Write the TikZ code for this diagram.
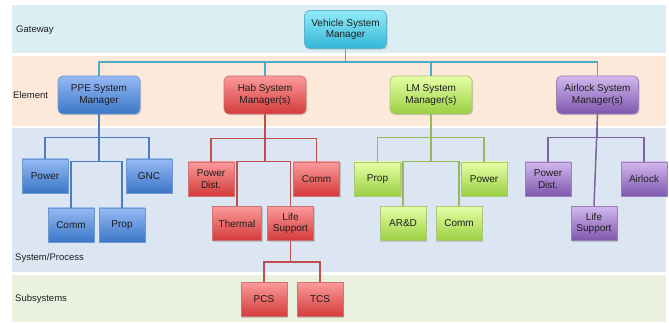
\documentclass[tikz,border=0pt]{standalone}
\usepackage{fontspec}
\setmainfont{Liberation Sans}
\usetikzlibrary{shadows}
\definecolor{bandA}{HTML}{DBEEF4}
\definecolor{bandB}{HTML}{FDE9DA}
\definecolor{bandC}{HTML}{DCE6F2}
\definecolor{bandD}{HTML}{EBF1DF}
\definecolor{cyT}{HTML}{92EBFA}\definecolor{cyB}{HTML}{34B6D6}\definecolor{cyL}{HTML}{4BACC6}
\definecolor{blT}{HTML}{96BAF4}\definecolor{blB}{HTML}{3A76C8}\definecolor{blL}{HTML}{4A7EBE}
\definecolor{rdT}{HTML}{FB9A9A}\definecolor{rdB}{HTML}{D43A3A}\definecolor{rdL}{HTML}{BF4F4C}
\definecolor{grT}{HTML}{E6FFA6}\definecolor{grB}{HTML}{9ACF42}\definecolor{grL}{HTML}{97B957}
\definecolor{puT}{HTML}{D2B8EE}\definecolor{puB}{HTML}{7E56AE}\definecolor{puL}{HTML}{7F63A1}
\definecolor{txt}{HTML}{1E1E1E}
\tikzset{
  bandlabel/.style={anchor=west, font=\fontsize{9.5}{11}\selectfont, text=txt, inner sep=0pt},
  boxbase/.style={text=txt, align=center, font=\fontsize{10}{11.5}\selectfont, inner sep=1pt,
    drop shadow={shadow xshift=1pt, shadow yshift=-1.2pt, opacity=0.35}},
  mgr/.style={boxbase, rounded corners=5pt, minimum width=82pt, minimum height=38pt},
  sub/.style={boxbase, minimum width=46pt, minimum height=34pt},
  cyanbox/.style={top color=cyT, bottom color=cyB, draw=cyL!90!white, line width=0.8pt},
  bluebox/.style={top color=blT, bottom color=blB, draw=blL!80!white, line width=0.8pt},
  redbox/.style={top color=rdT, bottom color=rdB, draw=rdL!80!white, line width=0.8pt},
  greenbox/.style={top color=grT, bottom color=grB, draw=grL!80!white, line width=0.8pt},
  purplebox/.style={top color=puT, bottom color=puB, draw=puL!80!white, line width=0.8pt},
  conn/.style={line width=1.5pt},
}
\begin{document}
\begin{tikzpicture}[x=1pt,y=-1pt]
\useasboundingbox (0,0) rectangle (669,323);
\fill[white] (0,0) rectangle (669,323);
% bands
\fill[bandA] (12,5) rectangle (666,53);
\fill[bandB] (12,56) rectangle (666,126);
\fill[bandC] (12,128) rectangle (666,272);
\fill[bandD] (12,275) rectangle (666,322);
\node[bandlabel] (lgw) at (16,30) {Gateway};
\node[bandlabel] (lel) at (13,95) {Element};
\node[bandlabel] (lsp) at (15,258) {System/Process};
\node[bandlabel] (lss) at (15,299) {Subsystems};

% managers
\node[mgr, cyanbox] (veh) at (345.5,29.5) {Vehicle System\\Manager};
\node[mgr, bluebox] (ppe) at (99,95) {PPE System\\Manager};
\node[mgr, redbox] (hab) at (265,95) {Hab System\\Manager(s)};
\node[mgr, greenbox] (lm) at (431,95) {LM System\\Manager(s)};
\node[mgr, purplebox] (air) at (597.5,95) {Airlock System\\Manager(s)};

% PPE children
\node[sub, bluebox] (ppower) at (45,176) {Power};
\node[sub, bluebox] (pgnc) at (149,176) {GNC};
\node[sub, bluebox] (pcomm) at (71,225) {Comm};
\node[sub, bluebox] (pprop) at (122,225) {Prop};
% Hab children
\node[sub, redbox] (hpd) at (211,179) {Power\\Dist.};
\node[sub, redbox] (hcomm) at (316.5,179) {Comm};
\node[sub, redbox, minimum width=49pt] (hth) at (237,223.5) {Thermal};
\node[sub, redbox] (hls) at (290.5,223.5) {Life\\Support};
\node[sub, redbox] (hpcs) at (264,299.5) {PCS};
\node[sub, redbox] (htcs) at (320,299.5) {TCS};
% LM children
\node[sub, greenbox] (lprop) at (377.5,179) {Prop};
\node[sub, greenbox] (lpower) at (484,179) {Power};
\node[sub, greenbox] (lard) at (403,223.5) {AR\&D};
\node[sub, greenbox] (lcomm) at (459,223.5) {Comm};
% Airlock children
\node[sub, purplebox] (apd) at (548,179) {Power\\Dist.};
\node[sub, purplebox] (aair) at (644,179) {Airlock};
\node[sub, purplebox] (als) at (594,223.5) {Life\\Support};

% connectors
\draw[conn, cyL] (veh.south) -- ++(0,13) -| (ppe.north);
\draw[conn, cyL] (veh.south) -- ++(0,13) -| (hab.north);
\draw[conn, cyL] (veh.south) -- ++(0,13) -| (lm.north);
\draw[conn, cyL] (veh.south) -- ++(0,13) -| (air.north);

\draw[conn, blL] (ppe.south) -- ++(0,23) -| (ppower.north);
\draw[conn, blL] (ppe.south) -- ++(0,23) -| (pgnc.north);
\draw[conn, blL] (ppe.south) -- ++(0,47) -| (pcomm.north);
\draw[conn, blL] (ppe.south) -- ++(0,47) -| (pprop.north);

\draw[conn, rdL] (hab.south) -- ++(0,24) -| (hpd.north);
\draw[conn, rdL] (hab.south) -- ++(0,24) -| (hcomm.north);
\draw[conn, rdL] (hab.south) -- ++(0,47) -| (hth.north);
\draw[conn, rdL] (hab.south) -- ++(0,47) -| (hls.north);
\draw[conn, rdL] (hls.south) -- ++(0,21) -| (hpcs.north);
\draw[conn, rdL] (hls.south) -- ++(0,21) -| (htcs.north);

\draw[conn, grL] (lm.south) -- ++(0,23) -| (lprop.north);
\draw[conn, grL] (lm.south) -- ++(0,23) -| (lpower.north);
\draw[conn, grL] (lm.south) -- ++(0,47) -| (lard.north);
\draw[conn, grL] (lm.south) -- ++(0,47) -| (lcomm.north);

\draw[conn, puL] (air.south) -- ++(0,23) -| (apd.north);
\draw[conn, puL] (air.south) -- ++(0,23) -| (aair.north);
\draw[conn, puL] (air.south) -- (als.north);
\end{tikzpicture}
\end{document}
